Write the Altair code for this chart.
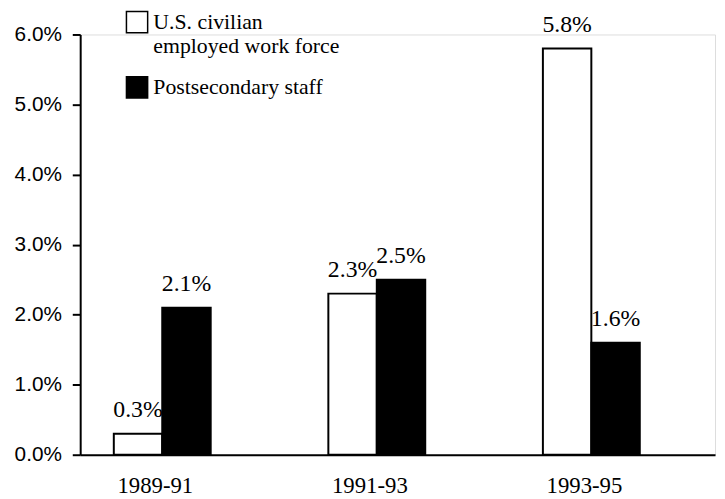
import altair as alt
import pandas as pd

periods = ["1989-91", "1991-93", "1993-95"]
series = ["U.S. civilian employed work force", "Postsecondary staff"]
workforce = [0.3, 2.3, 5.8]
staff = [2.1, 2.5, 1.6]

rows = []
for i, p in enumerate(periods):
    rows.append({"period": p, "series": series[0], "value": workforce[i]})
    rows.append({"period": p, "series": series[1], "value": staff[i]})
df = pd.DataFrame(rows)
df["label"] = df["value"].map(lambda v: f"{v:.1f}%")

SERIF = "Liberation Serif"
SANS = "Liberation Sans"

x = alt.X("period:N", sort=periods,
          scale=alt.Scale(paddingInner=0.235, paddingOuter=0.097, align=0),
          axis=alt.Axis(title=None, ticks=False, labelAngle=0, labelPadding=20,
                        labelBaseline="top", labelOffset=-7, domainColor="black",
                        domainWidth=2, labelFont=SERIF, labelFontSize=23,
                        labelColor="black"))
xo = alt.XOffset("series:N", sort=series,
                 scale=alt.Scale(paddingInner=0, paddingOuter=0.694))
y = alt.Y("value:Q", scale=alt.Scale(domain=[0, 6], nice=False),
          axis=alt.Axis(title=None, values=[0, 1, 2, 3, 4, 5, 6], grid=False,
                        labelExpr="format(datum.value, '.1f') + '%'",
                        tickSize=8, tickWidth=2, tickColor="black",
                        domainColor="black", domainWidth=2, labelPadding=11,
                        labelFont=SANS, labelFontSize=21, labelColor="black"))

color = alt.Color("series:N", sort=series,
                  scale=alt.Scale(domain=series, range=["white", "black"]),
                  legend=alt.Legend(title=None, orient="none", legendX=46, legendY=-24,
                                    symbolType="square", symbolSize=460,
                                    symbolStrokeColor="black", symbolStrokeWidth=1.5,
                                    labelFont=SERIF, labelFontSize=22, labelColor="black",
                                    labelLimit=400, labelOffset=5, rowPadding=16,
                                    labelBaseline="middle",
                                    labelExpr="datum.label == 'U.S. civilian employed work force' ? ['U.S. civilian', 'employed work force'] : datum.label"))

bars = alt.Chart(df).mark_bar(stroke="black", strokeWidth=2).encode(
    x=x, xOffset=xo, y=y, color=color)

text = alt.Chart(df).mark_text(baseline="alphabetic", dy=-17, font=SERIF,
                               fontSize=24, color="black").encode(
    x=alt.X("period:N", sort=periods), xOffset=alt.XOffset("series:N", sort=series),
    y="value:Q", text="label:N")

chart = alt.layer(bars, text).properties(
    width=642, height=425,
    autosize=alt.AutoSizeParams(type="none"),
    padding={"left": 73, "top": 24, "right": 2, "bottom": 42},
).configure_view(stroke=None).configure(background="white")

chart.save("out.html", embed_options={"renderer": "svg", "actions": False})
